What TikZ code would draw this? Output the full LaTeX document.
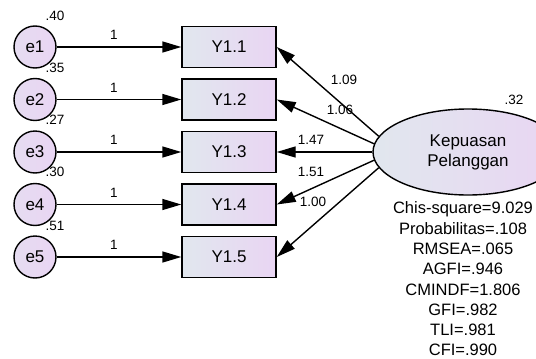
\documentclass[tikz,border=0pt]{standalone}
\usepackage{fontspec}
\setmainfont{Liberation Sans}
\usetikzlibrary{shapes.geometric,arrows.meta}
\definecolor{amosblue}{RGB}{225,231,238}
\definecolor{amoslila}{RGB}{233,213,243}

\begin{document}
\begin{tikzpicture}[x=1pt,y=1pt,
  every node/.append style={inner sep=0pt},
  err/.style={circle,draw,line width=1.4pt,minimum size=42pt,shading angle=135,
    left color=amosblue!40!amoslila,right color=amoslila,font=\fontsize{17}{19}\selectfont},
  obs/.style={rectangle,draw,line width=1.4pt,minimum width=94pt,minimum height=41pt,
    left color=amosblue,right color=amoslila,font=\fontsize{17}{19}\selectfont},
  lat/.style={ellipse,draw,line width=1.4pt,minimum width=190pt,minimum height=86pt,
    left color=amosblue,right color=amoslila,align=center,font=\fontsize{17}{20}\selectfont},
  reg/.style={line width=1.4pt,-{Triangle[length=19pt,width=11pt]}},
  est/.style={font=\fontsize{13.5}{15}\selectfont}]
\useasboundingbox (0,0) rectangle (536,-359);
% error terms
\node[err] (e1) at (35,-47) {e1};
\node[err] (e2) at (35,-99.5) {e2};
\node[err] (e3) at (35,-152) {e3};
\node[err] (e4) at (35,-204.5) {e4};
\node[err] (e5) at (35,-257) {e5};
\node[est] (ve1) at (55,-16) {.40};
\node[est] (ve2) at (55,-68) {.35};
\node[est] (ve3) at (55,-120) {.27};
\node[est] (ve4) at (55,-172) {.30};
\node[est] (ve5) at (55,-226) {.51};
% indicators
\node[obs] (y1) at (229,-47) {Y1.1};
\node[obs] (y2) at (229,-99.5) {Y1.2};
\node[obs] (y3) at (229,-152) {Y1.3};
\node[obs] (y4) at (229,-204.5) {Y1.4};
\node[obs] (y5) at (229,-257) {Y1.5};
% latent variable
\node[lat] (kp) at (468,-152) {Kepuasan\\Pelanggan};
\node[est] (vkp) at (514,-100) {.32};
% error paths
\draw[reg] (e1) -- (y1);
\draw[reg] (e2) -- (y2);
\draw[reg] (e3) -- (y3);
\draw[reg] (e4) -- (y4);
\draw[reg] (e5) -- (y5);
\node[est] (w1) at (114,-35) {1};
\node[est] (w2) at (114,-87.5) {1};
\node[est] (w3) at (114,-140) {1};
\node[est] (w4) at (114,-192.5) {1};
\node[est] (w5) at (114,-245) {1};
% loadings
\draw[reg] (kp.170) -- (y1.east);
\draw[reg] (kp.175) -- (y2.east);
\draw[reg] (kp.180) -- (y3.east);
\draw[reg] (kp.185) -- (y4.east);
\draw[reg] (kp.190) -- (y5.east);
\node[est] (l1) at (344,-80) {1.09};
\node[est] (l2) at (340,-110) {1.06};
\node[est] (l3) at (311,-140) {1.47};
\node[est] (l4) at (311,-172) {1.51};
\node[est] (l5) at (313,-202) {1.00};
% fit indices
\node[align=center,font=\fontsize{16.5}{20.3}\selectfont] (fit) at (463,-279)
  {Chis-square=9.029\\Probabilitas=.108\\RMSEA=.065\\AGFI=.946\\CMINDF=1.806\\GFI=.982\\TLI=.981\\CFI=.990};
\end{tikzpicture}
\end{document}
